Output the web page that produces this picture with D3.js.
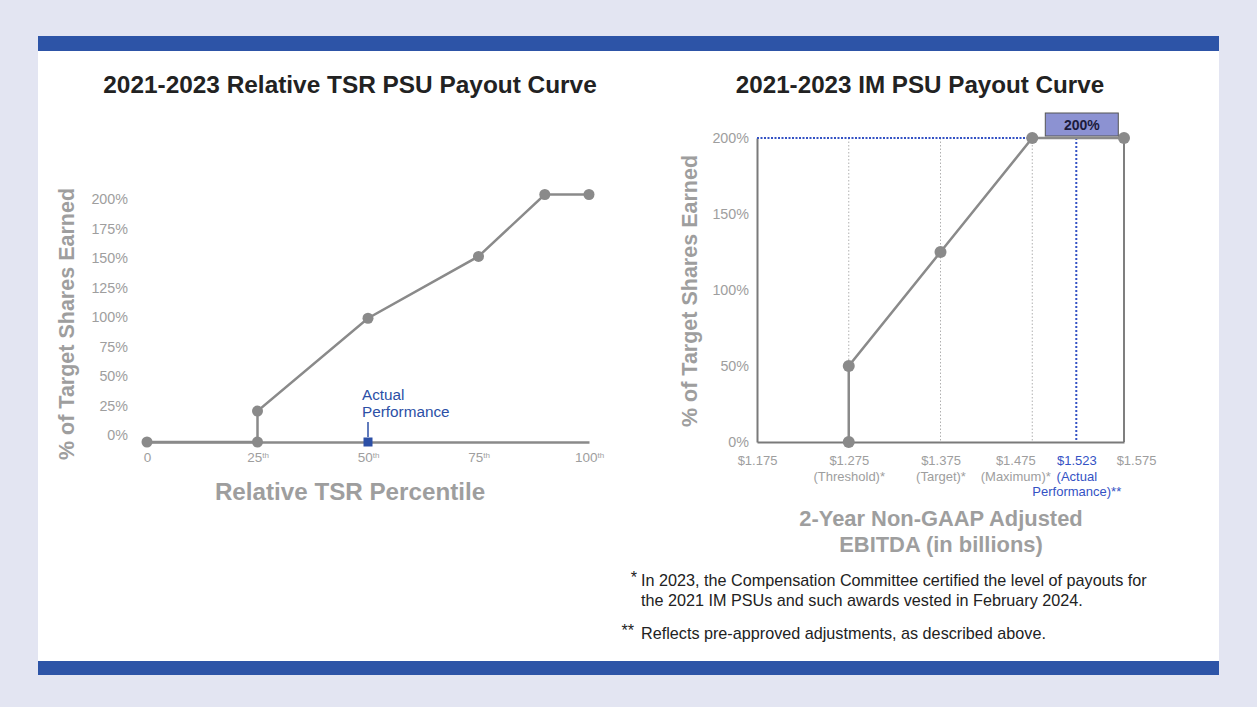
<!DOCTYPE html>
<html><head><meta charset="utf-8">
<script src="https://cdn.jsdelivr.net/npm/d3@7/dist/d3.min.js"></script>
<style>
body{margin:0;background:#e3e5f2;}
svg{display:block;font-family:"Liberation Sans",Arial,Helvetica,sans-serif;}
</style></head><body>
<svg id="c" width="1257" height="707"></svg>
<script>
// ---- data ----
const tsrPercentile = [0, 25, 25, 50, 75, 90, 100];
const tsrPayout     = [0, 0, 25, 100, 150, 200, 200];
const tsrXTicks = [0, 25, 50, 75, 100];
const tsrXTickSuffix = ["", "th", "th", "th", "th"];
const tsrYTicks = [0, 25, 50, 75, 100, 125, 150, 175, 200];
const tsrActualPercentile = 50;
const tsrActualLabel = ["Actual", "Performance"];

const imEbitda = [1.275, 1.275, 1.375, 1.475, 1.575];
const imPayout = [0, 50, 125, 200, 200];
const imXTicks = [1.175, 1.275, 1.375, 1.475, 1.523, 1.575];
const imXTickLabels = [["$1.175"], ["$1.275", "(Threshold)*"], ["$1.375", "(Target)*"], ["$1.475", "(Maximum)*"], ["$1.523", "(Actual", "Performance)**"], ["$1.575"]];
const imGuides = [1.275, 1.375, 1.475];
const imYTicks = [0, 50, 100, 150, 200];
const imActual = 1.523;
const imActualPayout = 200;
const imActualLabel = "200%";

const titles = ["2021-2023 Relative TSR PSU Payout Curve", "2021-2023 IM PSU Payout Curve"];
const yTitle = "% of Target Shares Earned";
const tsrXTitle = "Relative TSR Percentile";
const imXTitle = ["2-Year Non-GAAP Adjusted", "EBITDA (in billions)"];
const footnotes = [
  {mark: "*", lines: ["In 2023, the Compensation Committee certified the level of payouts for", "the 2021 IM PSUs and such awards vested in February 2024."]},
  {mark: "**", lines: ["Reflects pre-approved adjustments, as described above."]}
];

// ---- style ----
const GRAY = "#8a8a8a", LABEL = "#9e9e9e", BLUE = "#2c4fa6", BLUE2 = "#3452c4";
const svg = d3.select("#c");

// panel
svg.append("rect").attr("x", 38).attr("y", 36).attr("width", 1181).attr("height", 639).attr("fill", "#fff");
svg.append("rect").attr("x", 38).attr("y", 36).attr("width", 1181).attr("height", 15).attr("fill", "#2d54a7");
svg.append("rect").attr("x", 38).attr("y", 661).attr("width", 1181).attr("height", 14).attr("fill", "#2d54a7");

// titles
svg.append("text").attr("x", 350).attr("y", 84).attr("text-anchor", "middle").attr("dominant-baseline", "central")
  .attr("font-size", 24.4).attr("font-weight", "bold").attr("fill", "#222").text(titles[0]);
svg.append("text").attr("x", 920).attr("y", 84).attr("text-anchor", "middle").attr("dominant-baseline", "central")
  .attr("font-size", 24.2).attr("font-weight", "bold").attr("fill", "#222").text(titles[1]);

// ================= LEFT CHART =================
const xL = d3.scaleLinear().domain([0, 100]).range([147, 589]);
const yL = d3.scaleLinear().domain([0, 200]).range([442, 194.5]);
const yLLab = d3.scaleLinear().domain([0, 200]).range([435, 199]); // label positions as drawn in the source

const gL = svg.append("g");
// y tick labels
const yAxL = gL.append("g").attr("transform", "translate(128,0)")
  .call(d3.axisLeft(yLLab).tickValues(tsrYTicks).tickSize(0).tickPadding(0).tickFormat(d => d + "%"));
yAxL.select(".domain").remove();
yAxL.selectAll("text").attr("fill", LABEL).attr("font-size", 14.3).attr("font-family", null);

// baseline axis
const xAxL = gL.append("g").attr("transform", `translate(0,${yL(0)})`)
  .call(d3.axisBottom(xL).tickValues(tsrXTicks).tickSize(0).tickPadding(0).tickFormat(""));
xAxL.select(".domain").attr("stroke", GRAY).attr("stroke-width", 2.5);
xAxL.selectAll(".tick").each(function(d, i) {
  const t = d3.select(this).append("text").attr("y", 16).attr("dy", "0.32em").attr("text-anchor", "middle")
    .attr("fill", LABEL).attr("font-size", 13.5);
  t.append("tspan").text(String(d));
  if (tsrXTickSuffix[i]) t.append("tspan").attr("font-size", 8).attr("dy", "-0.6em").text(tsrXTickSuffix[i]);
});

// line
const lineL = d3.line().x(d => xL(d[0])).y(d => yL(d[1]));
const ptsL = tsrPercentile.map((p, i) => [p, tsrPayout[i]]);
gL.append("path").datum(ptsL).attr("d", lineL).attr("fill", "none").attr("stroke", GRAY).attr("stroke-width", 2.5);
gL.selectAll("circle.p").data(ptsL).join("circle").attr("class", "p")
  .attr("cx", d => xL(d[0])).attr("cy", d => yL(d[1])).attr("r", 5.5).attr("fill", GRAY);

// actual performance
gL.append("line").attr("x1", xL(tsrActualPercentile)).attr("x2", xL(tsrActualPercentile))
  .attr("y1", 422).attr("y2", 437).attr("stroke", BLUE).attr("stroke-width", 1.5);
gL.append("rect").attr("x", xL(tsrActualPercentile) - 4.5).attr("y", yL(0) - 4.5).attr("width", 9).attr("height", 9).attr("fill", BLUE);
gL.append("text").attr("x", xL(tsrActualPercentile) - 6).attr("y", 394).attr("dominant-baseline", "central")
  .attr("fill", BLUE).attr("font-size", 15.3).text(tsrActualLabel[0]);
gL.append("text").attr("x", xL(tsrActualPercentile) - 6).attr("y", 411.5).attr("dominant-baseline", "central")
  .attr("fill", BLUE).attr("font-size", 15.3).text(tsrActualLabel[1]);

// axis titles
gL.append("text").attr("x", 350).attr("y", 491).attr("text-anchor", "middle").attr("dominant-baseline", "central")
  .attr("font-size", 24.2).attr("font-weight", "bold").attr("fill", LABEL).text(tsrXTitle);
gL.append("text").attr("transform", "translate(67,324) rotate(-90)").attr("text-anchor", "middle").attr("dominant-baseline", "central")
  .attr("font-size", 21.5).attr("font-weight", "bold").attr("fill", LABEL).text(yTitle);

// ================= RIGHT CHART =================
const xR = d3.scaleLinear().domain([1.175, 1.575]).range([757, 1124]);
const yR = d3.scaleLinear().domain([0, 200]).range([442, 138]);
const gR = svg.append("g");

// guides
gR.selectAll("line.guide").data(imGuides).join("line").attr("class", "guide")
  .attr("x1", d => xR(d)).attr("x2", d => xR(d)).attr("y1", yR(200)).attr("y2", yR(0))
  .attr("stroke", "#b0b0b0").attr("stroke-width", 1).attr("stroke-dasharray", "1.5,2");

// frame: left and bottom axes
const yAxR = gR.append("g").attr("transform", `translate(${xR(1.175)},0)`)
  .call(d3.axisLeft(yR).tickValues(imYTicks).tickSize(0).tickPadding(8).tickFormat(d => d + "%"));
yAxR.select(".domain").attr("stroke", "#7a7a7a").attr("stroke-width", 2);
yAxR.selectAll("text").attr("fill", LABEL).attr("font-size", 14.3).attr("font-family", null);

// top dotted line
gR.append("line").attr("x1", xR(1.175)).attr("x2", xR(1.475)).attr("y1", yR(200)).attr("y2", yR(200))
  .attr("stroke", BLUE2).attr("stroke-width", 2).attr("stroke-dasharray", "2,1.5");
// right edge
gR.append("line").attr("x1", xR(1.575)).attr("x2", xR(1.575)).attr("y1", yR(200)).attr("y2", yR(0))
  .attr("stroke", "#555").attr("stroke-width", 1.5);

const labelShift = {1.475: -17, 1.575: 12};
const xAxR = gR.append("g").attr("transform", `translate(0,${yR(0)})`)
  .call(d3.axisBottom(xR).tickValues(imXTicks).tickSize(0).tickFormat(""));
xAxR.select(".domain").attr("stroke", "#7a7a7a").attr("stroke-width", 2);
xAxR.selectAll(".tick").each(function(d, i) {
  const isActual = d === imActual;
  const sh = labelShift[d] || 0;
  imXTickLabels[i].forEach((s, k) => {
    d3.select(this).append("text").attr("x", sh).attr("y", 19 + k * 15.5).attr("dy", "0.32em")
      .attr("text-anchor", "middle").attr("font-size", 13)
      .attr("fill", isActual ? BLUE2 : LABEL).text(s);
  });
});

// actual vertical dotted
gR.append("line").attr("x1", xR(imActual)).attr("x2", xR(imActual)).attr("y1", yR(200)).attr("y2", yR(0))
  .attr("stroke", BLUE2).attr("stroke-width", 2).attr("stroke-dasharray", "2,2");

// curve
const ptsR = imEbitda.map((e, i) => [e, imPayout[i]]);
const lineR = d3.line().x(d => xR(d[0])).y(d => yR(d[1]));
gR.append("path").datum(ptsR).attr("d", lineR).attr("fill", "none").attr("stroke", GRAY).attr("stroke-width", 2.5);
gR.selectAll("circle.p").data(ptsR).join("circle").attr("class", "p")
  .attr("cx", d => xR(d[0])).attr("cy", d => yR(d[1])).attr("r", 6).attr("fill", GRAY);

// 200% box
const bx = xR(imActual);
gR.append("rect").attr("x", bx - 31).attr("y", yR(imActualPayout) - 25).attr("width", 73).attr("height", 23)
  .attr("fill", "#8c92d2").attr("stroke", "#555").attr("stroke-width", 1);
gR.append("text").attr("x", bx + 5.5).attr("y", yR(imActualPayout) - 13.5).attr("text-anchor", "middle").attr("dominant-baseline", "central")
  .attr("font-size", 14).attr("font-weight", "bold").attr("fill", "#1b1b3c").text(imActualLabel);

// axis titles
gR.append("text").attr("transform", "translate(690,291) rotate(-90)").attr("text-anchor", "middle").attr("dominant-baseline", "central")
  .attr("font-size", 21.5).attr("font-weight", "bold").attr("fill", LABEL).text(yTitle);
imXTitle.forEach((s, k) => {
  gR.append("text").attr("x", 941).attr("y", 518 + k * 26).attr("text-anchor", "middle").attr("dominant-baseline", "central")
    .attr("font-size", 21.9).attr("font-weight", "bold").attr("fill", LABEL).text(s);
});

// footnotes
const fn = svg.append("g").attr("font-size", 16.2).attr("fill", "#222");
fn.append("text").attr("x", 637).attr("y", 577).attr("text-anchor", "end").attr("dominant-baseline", "central").text(footnotes[0].mark);
footnotes[0].lines.forEach((s, k) => fn.append("text").attr("x", 641).attr("y", 580 + k * 20).attr("dominant-baseline", "central").text(s));
fn.append("text").attr("x", 634).attr("y", 630).attr("text-anchor", "end").attr("dominant-baseline", "central").text(footnotes[1].mark);
footnotes[1].lines.forEach((s, k) => fn.append("text").attr("x", 641).attr("y", 633 + k * 20).attr("dominant-baseline", "central").text(s));
</script></body></html>
